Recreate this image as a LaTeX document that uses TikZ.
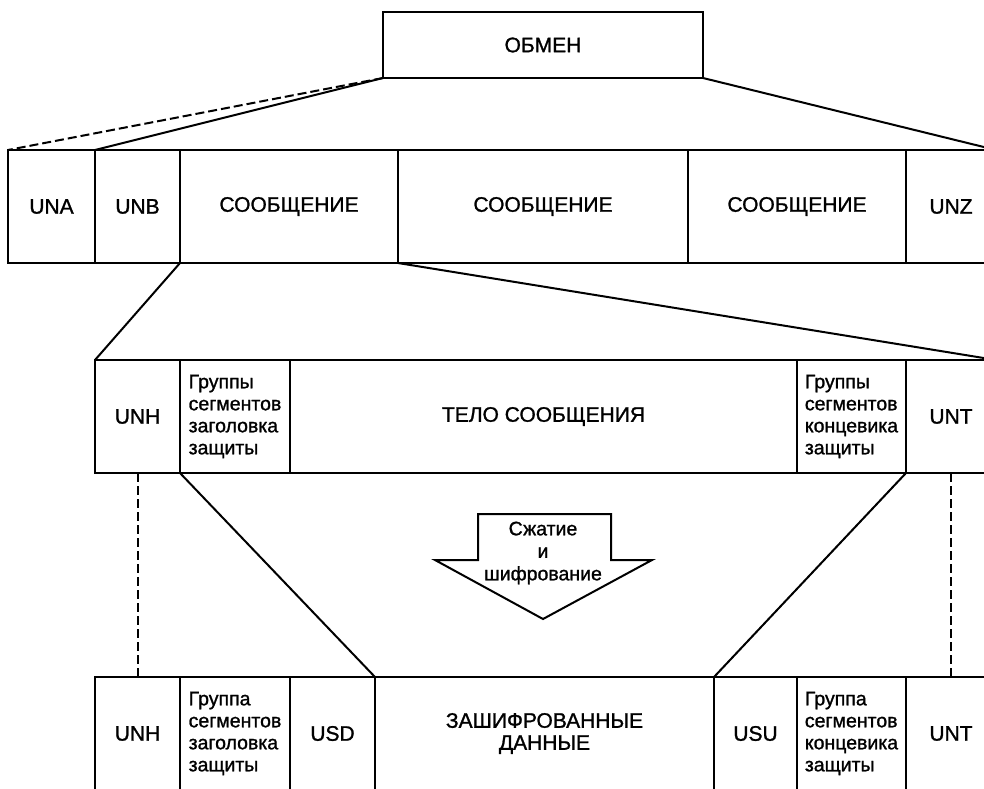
\documentclass[tikz,border=0pt]{standalone}
\usepackage{fontspec}
\setmainfont{Liberation Sans}[FakeBold=1.2]
\begin{document}
\begin{tikzpicture}[x=1pt,y=-1pt,line width=2pt,
    cell/.style={draw,anchor=north west,inner sep=0pt,outer sep=0pt,
      minimum height=113pt,align=center,font=\fontsize{21}{22}\selectfont},
    grp/.style={cell,align=left,font=\fontsize{19.5}{22}\selectfont},
    dashlink/.style={dash pattern=on 9pt off 4pt}]
  \useasboundingbox (0,0) rectangle (984,788);
  \clip (0,0) rectangle (984,788);
  % top
  \node[cell,minimum width=320pt,minimum height=66pt] (obmen) at (383,12) {ОБМЕН};
  % interchange
  \node[cell,minimum width=87pt] (una) at (8,150) {UNA};
  \node[cell,minimum width=85pt] (unb) at (95,150) {UNB};
  \node[cell,minimum width=218pt] (msgA) at (180,150) {СООБЩЕНИЕ};
  \node[cell,minimum width=290pt] (msgB) at (398,150) {СООБЩЕНИЕ};
  \node[cell,minimum width=218pt] (msgC) at (688,150) {СООБЩЕНИЕ};
  \node[cell,minimum width=90pt] (unz) at (906,150) {UNZ};
  % message
  \node[cell,minimum width=85pt] (unhA) at (95,360) {UNH};
  \node[grp,minimum width=110pt] (grpHA) at (180,360) {Группы\\сегментов\\заголовка\\защиты};
  \node[cell,minimum width=507pt] (body) at (290,360) {ТЕЛО СООБЩЕНИЯ};
  \node[grp,minimum width=109pt] (grpTA) at (797,360) {Группы\\сегментов\\концевика\\защиты};
  \node[cell,minimum width=90pt] (untA) at (906,360) {UNT};
  % secured message
  \node[cell,minimum width=85pt] (unhB) at (95,677) {UNH};
  \node[grp,minimum width=110pt] (grpHB) at (180,677) {Группа\\сегментов\\заголовка\\защиты};
  \node[cell,minimum width=85pt] (usd) at (290,677) {USD};
  \node[cell,minimum width=339pt] (data) at (375,677) {ЗАШИФРОВАННЫЕ\\ДАННЫЕ};
  \node[cell,minimum width=83pt] (usu) at (714,677) {USU};
  \node[grp,minimum width=109pt] (grpTB) at (797,677) {Группа\\сегментов\\концевика\\защиты};
  \node[cell,minimum width=90pt] (untB) at (906,677) {UNT};
  % compression arrow
  \draw[line join=miter] (478,514) -- (611,514) -- (611,560) -- (652,560)
    -- (543,619) -- (435,560) -- (478,560) -- cycle;
  \node[align=center,font=\fontsize{19.5}{22.5}\selectfont] (squeeze) at (543,553) {Сжатие\\и\\шифрование};
  % links
  \draw[dashlink] (obmen.south west) -- (una.north west);
  \draw (obmen.south west) -- (unb.north west);
  \draw (obmen.south east) -- (unz.north east);
  \draw (msgA.south west) -- (unhA.north west);
  \draw (msgB.south west) -- (untA.north east);
  \draw (grpHA.south west) -- (data.north west);
  \draw (untA.south west) -- (usu.north west);
  \draw[dashlink] (unhA.south) -- (unhB.north);
  \draw[dashlink] (untA.south) -- (untB.north);
\end{tikzpicture}
\end{document}
